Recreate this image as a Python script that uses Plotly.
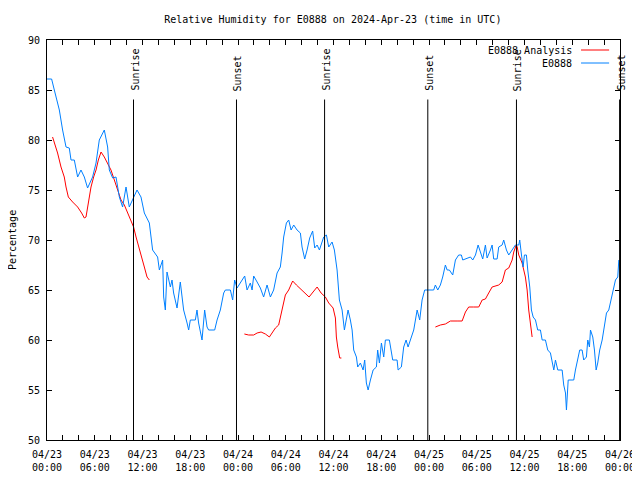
import plotly.graph_objects as go
import pandas as pd

BASE = pd.Timestamp("2024-04-23 00:00")

# Observed relative humidity (hours after 2024-04-23 00:00 UTC, %)
obs_hours = [0.0, 0.58, 0.92, 1.55, 1.96, 2.39, 2.80, 3.02, 3.43, 3.85, 4.27, 4.69, 5.10, 5.73, 6.16,
             6.57, 7.20, 7.62, 7.83, 8.25, 8.67, 9.09, 9.50, 9.93, 10.34, 10.76, 11.31, 11.81, 12.23,
             12.86, 13.27, 13.90, 14.12, 14.53, 14.66, 14.87, 15.08, 15.50, 15.71, 15.91, 16.34, 16.75,
             17.17, 17.60, 17.80, 18.01, 18.64, 18.85, 19.05, 19.48, 19.81, 20.11, 20.31, 21.07, 21.37,
             21.78, 22.20, 22.41, 23.04, 23.33, 23.58, 23.88, 24.51, 24.84, 25.14, 25.55, 25.77, 25.97,
             26.40, 26.81, 27.22, 27.65, 28.07, 28.48, 28.91, 29.32, 29.54, 29.74, 30.08, 30.37, 30.67,
             31.00, 31.42, 31.84, 32.05, 32.38, 32.68, 33.01, 33.38, 33.64, 33.94, 34.23, 34.77, 35.11,
             35.40, 35.82, 36.11, 36.45, 36.74, 37.08, 37.37, 37.62, 37.83, 38.12, 38.34, 38.54, 38.88,
             39.04, 39.38, 39.72, 39.92, 40.13, 40.35, 40.64, 40.98, 41.39, 41.55, 41.77, 42.02, 42.31,
             42.52, 43.02, 43.28, 43.44, 43.99, 44.12, 44.53, 44.82, 45.12, 45.37, 45.66, 46.08, 46.51,
             46.83, 47.13, 47.46, 48.59, 48.80, 49.10, 49.43, 49.72, 50.06, 50.28, 50.56, 50.98, 51.32,
             51.73, 52.07, 52.24, 52.58, 53.21, 53.50, 53.84, 54.17, 54.46, 54.75, 55.09, 55.30, 55.72,
             55.93, 56.13, 56.56, 56.76, 57.19, 57.39, 57.73, 58.02, 58.45, 58.86, 59.28, 59.40, 59.62,
             59.83, 59.99, 60.24, 60.41, 60.66, 60.87, 61.09, 61.38, 61.66, 62.00, 62.22, 62.63, 62.92,
             63.26, 63.55, 63.68, 63.89, 64.18, 64.73, 64.93, 65.15, 65.27, 65.49, 66.19, 66.40, 66.69,
             66.94, 67.24, 67.44, 67.78, 67.95, 68.16, 68.29, 68.58, 68.79, 69.00, 69.20, 69.45, 69.76,
             69.96, 70.30, 70.59, 70.89, 71.22, 71.43, 71.72, 71.85]
obs_values = [86.1, 86.1, 85.0, 83.0, 81.0, 79.3, 79.2, 78.0, 78.0, 76.3, 77.0, 76.3, 75.2, 76.3, 77.7,
              80.0, 81.0, 79.3, 77.0, 76.2, 76.3, 74.3, 73.3, 75.3, 73.3, 74.0, 75.0, 74.3, 72.7,
              71.7, 69.0, 68.3, 67.0, 68.0, 64.3, 63.0, 66.8, 65.3, 66.0, 64.7, 63.2, 65.8,
              63.0, 61.7, 61.0, 62.0, 62.0, 63.0, 61.7, 60.0, 63.0, 61.3, 61.0, 61.0, 62.0,
              63.0, 64.7, 65.0, 65.0, 64.0, 66.0, 65.2, 66.0, 66.4, 65.0, 65.7, 65.0, 66.4,
              65.8, 65.2, 64.3, 65.5, 64.3, 65.0, 66.7, 67.3, 68.7, 70.3, 71.7, 72.0, 71.0,
              71.5, 71.0, 70.7, 69.3, 68.1, 69.0, 70.2, 70.9, 69.2, 69.5, 69.0, 70.3, 70.5,
              69.3, 69.8, 69.0, 67.0, 64.0, 63.0, 61.0, 62.0, 63.0, 62.0, 61.0, 59.0, 58.3,
              57.3, 57.7, 57.0, 58.0, 55.7, 55.0, 56.0, 57.0, 57.3, 59.0, 57.7, 59.7, 58.3,
              60.0, 60.0, 58.5, 58.0, 58.0, 57.0, 57.3, 59.3, 60.0, 59.3, 60.0, 61.0, 63.0,
              62.0, 64.0, 65.0, 65.0, 65.5, 65.0, 65.5, 66.3, 67.5, 67.0, 67.0, 66.5, 68.0,
              68.5, 68.5, 68.0, 68.1, 68.3, 68.0, 68.5, 69.5, 68.8, 68.1, 69.5, 68.2, 69.0,
              69.5, 68.1, 68.1, 69.3, 69.5, 70.0, 69.0, 68.5, 69.0, 69.5, 69.5, 70.0, 68.5,
              67.3, 68.5, 68.5, 67.0, 65.3, 63.0, 62.3, 62.0, 61.0, 61.0, 60.0, 60.0, 59.0,
              58.7, 57.7, 57.0, 58.0, 57.0, 57.0, 55.5, 54.7, 53.0, 56.0, 56.0, 57.0, 58.0,
              59.0, 59.0, 58.0, 58.3, 60.0, 59.3, 61.0, 60.3, 59.0, 57.0, 57.7, 59.0, 60.0,
              61.0, 62.7, 63.0, 64.0, 65.0, 66.0, 66.3, 68.0]

# Analysis runs (three separate segments)
ana1_hours = [0.70, 0.92, 1.33, 1.76, 2.17, 2.39, 2.68, 3.22, 3.85, 4.35, 4.69, 4.90, 5.19, 5.53, 5.86,
              6.16, 6.45, 6.79, 7.20, 7.62, 8.04, 8.46, 8.87, 9.30, 9.72, 10.13, 10.56, 10.88, 11.19,
              11.51, 11.81, 12.23, 12.57, 12.86]
ana1_values = [80.3, 79.8, 78.7, 77.3, 76.3, 75.3, 74.3, 73.8, 73.3, 72.7, 72.2, 72.3, 73.7, 75.3, 76.3,
               77.0, 78.0, 78.8, 78.3, 77.7, 77.0, 76.0, 75.0, 74.0, 73.5, 72.7, 72.0, 71.3, 70.3,
               69.3, 68.5, 67.3, 66.3, 66.0]
ana2_hours = [24.80, 25.34, 25.97, 26.40, 26.90, 27.44, 27.94, 28.28, 28.70, 29.11, 29.32, 29.61, 29.95,
              30.37, 30.87, 31.34, 31.84, 32.34, 32.93, 33.43, 33.94, 34.44, 34.98, 35.40, 35.95, 36.24,
              36.36, 36.53, 36.78, 36.99]
ana2_values = [60.6, 60.5, 60.5, 60.7, 60.8, 60.6, 60.3, 60.7, 61.2, 61.5, 62.3, 63.3, 64.5,
               65.0, 65.9, 65.5, 65.1, 64.8, 64.3, 64.8, 65.3, 64.7, 64.3, 63.7, 63.2, 62.2,
               60.3, 59.3, 58.2, 58.2]
ana3_hours = [48.80, 49.43, 50.06, 50.69, 51.53, 52.16, 52.58, 52.99, 53.62, 54.25, 54.68, 55.09, 55.50,
              55.93, 56.76, 57.19, 57.60, 58.02, 58.45, 58.65, 58.96, 59.08, 59.28, 59.70, 60.11, 60.33,
              60.53, 60.75, 60.96]
ana3_values = [61.3, 61.5, 61.6, 61.9, 61.9, 61.9, 62.8, 63.3, 63.3, 63.3, 64.0, 64.1, 64.7,
               65.3, 65.5, 65.8, 67.0, 67.2, 68.0, 68.8, 69.5, 69.3, 68.5, 67.7, 66.3, 65.0,
               63.0, 61.7, 60.3]

sun_labels = ["Sunrise", "Sunset", "Sunrise", "Sunset", "Sunrise", "Sunset"]
sun_hours = [10.87, 23.81, 34.88, 47.85, 58.99, 71.95]

tick_hours = list(range(0, 73, 6))
tick_labels = ["04/23<br>00:00", "04/23<br>06:00", "04/23<br>12:00", "04/23<br>18:00",
               "04/24<br>00:00", "04/24<br>06:00", "04/24<br>12:00", "04/24<br>18:00",
               "04/25<br>00:00", "04/25<br>06:00", "04/25<br>12:00", "04/25<br>18:00",
               "04/26<br>00:00"]


def to_time(hours):
    return [BASE + pd.Timedelta(hours=h) for h in hours]


FONT = "DejaVu Sans Mono"
RED = "#ff0000"
BLUE = "#0080ff"

ana_x = to_time(ana1_hours) + [None] + to_time(ana2_hours) + [None] + to_time(ana3_hours)
ana_y = ana1_values + [None] + ana2_values + [None] + ana3_values

fig = go.Figure()
fig.add_trace(go.Scatter(x=ana_x, y=ana_y, mode="lines", line=dict(color=RED, width=1),
                         connectgaps=False, name="E0888 Analysis", showlegend=False))
fig.add_trace(go.Scatter(x=to_time(obs_hours), y=obs_values, mode="lines",
                         line=dict(color=BLUE, width=1), name="E0888", showlegend=False))

for lab, h in zip(sun_labels, sun_hours):
    t = BASE + pd.Timedelta(hours=h)
    fig.add_shape(type="line", xref="x", yref="y", x0=t, x1=t, y0=84.05, y1=50,
                  line=dict(color="black", width=1))
    fig.add_annotation(x=t, y=84.7, xref="x", yref="y", text=lab, showarrow=False,
                       textangle=-90, xanchor="center", yanchor="bottom", xshift=1,
                       font=dict(family=FONT, size=10, color="black"))

# legend (gnuplot style: text right-aligned, sample line on the right)
legend_items = [("E0888 Analysis", RED, 0.975), ("E0888", BLUE, 0.9425)]
for txt, col, yy in legend_items:
    fig.add_annotation(x=0.9197, y=yy, xref="paper", yref="paper", text=txt, showarrow=False,
                       xanchor="right", yanchor="middle",
                       font=dict(family=FONT, size=10, color="black"))
    fig.add_shape(type="line", xref="paper", yref="paper", x0=0.932, x1=0.981, y0=yy, y1=yy,
                  line=dict(color=col, width=1))

# y-axis title
fig.add_annotation(x=-0.061, y=0.5, xref="paper", yref="paper", text="Percentage",
                   showarrow=False, textangle=-90, xanchor="center", yanchor="middle",
                   font=dict(family=FONT, size=10, color="black"))

# the page places the figure 8px from the top-left corner; size/margins compensate
fig.update_layout(
    width=632, height=472,
    margin=dict(l=39, r=20, t=32, b=40, autoexpand=False),
    paper_bgcolor="white", plot_bgcolor="white",
    font=dict(family=FONT, size=10, color="black"),
    title=dict(text="Relative Humidity for E0888 on 2024-Apr-23 (time in UTC)",
               x=0.514, xref="container", xanchor="center",
               y=0.975, yref="container", yanchor="middle",
               font=dict(family=FONT, size=10, color="black")),
    showlegend=False,
)
fig.update_xaxes(
    type="date", automargin=False,
    range=[BASE, BASE + pd.Timedelta(hours=72)],
    tickmode="array", tickvals=to_time(tick_hours), ticktext=tick_labels,
    ticks="inside", ticklen=5, tickcolor="black", ticklabelstandoff=5,
    minor=dict(dtick=2 * 3600 * 1000, ticks="inside", ticklen=5, tickcolor="black", showgrid=False),
    showgrid=False, zeroline=False,
    showline=True, linecolor="black", linewidth=1, mirror="allticks",
    tickfont=dict(family=FONT, size=10, color="black"),
)
fig.update_yaxes(
    automargin=False,
    range=[50, 90], tickmode="array", tickvals=[50, 55, 60, 65, 70, 75, 80, 85, 90],
    ticks="inside", ticklen=5, tickcolor="black", ticklabelstandoff=4,
    showgrid=False, zeroline=False,
    showline=True, linecolor="black", linewidth=1, mirror="allticks",
    tickfont=dict(family=FONT, size=10, color="black"),
)

fig.write_html("out.html")
